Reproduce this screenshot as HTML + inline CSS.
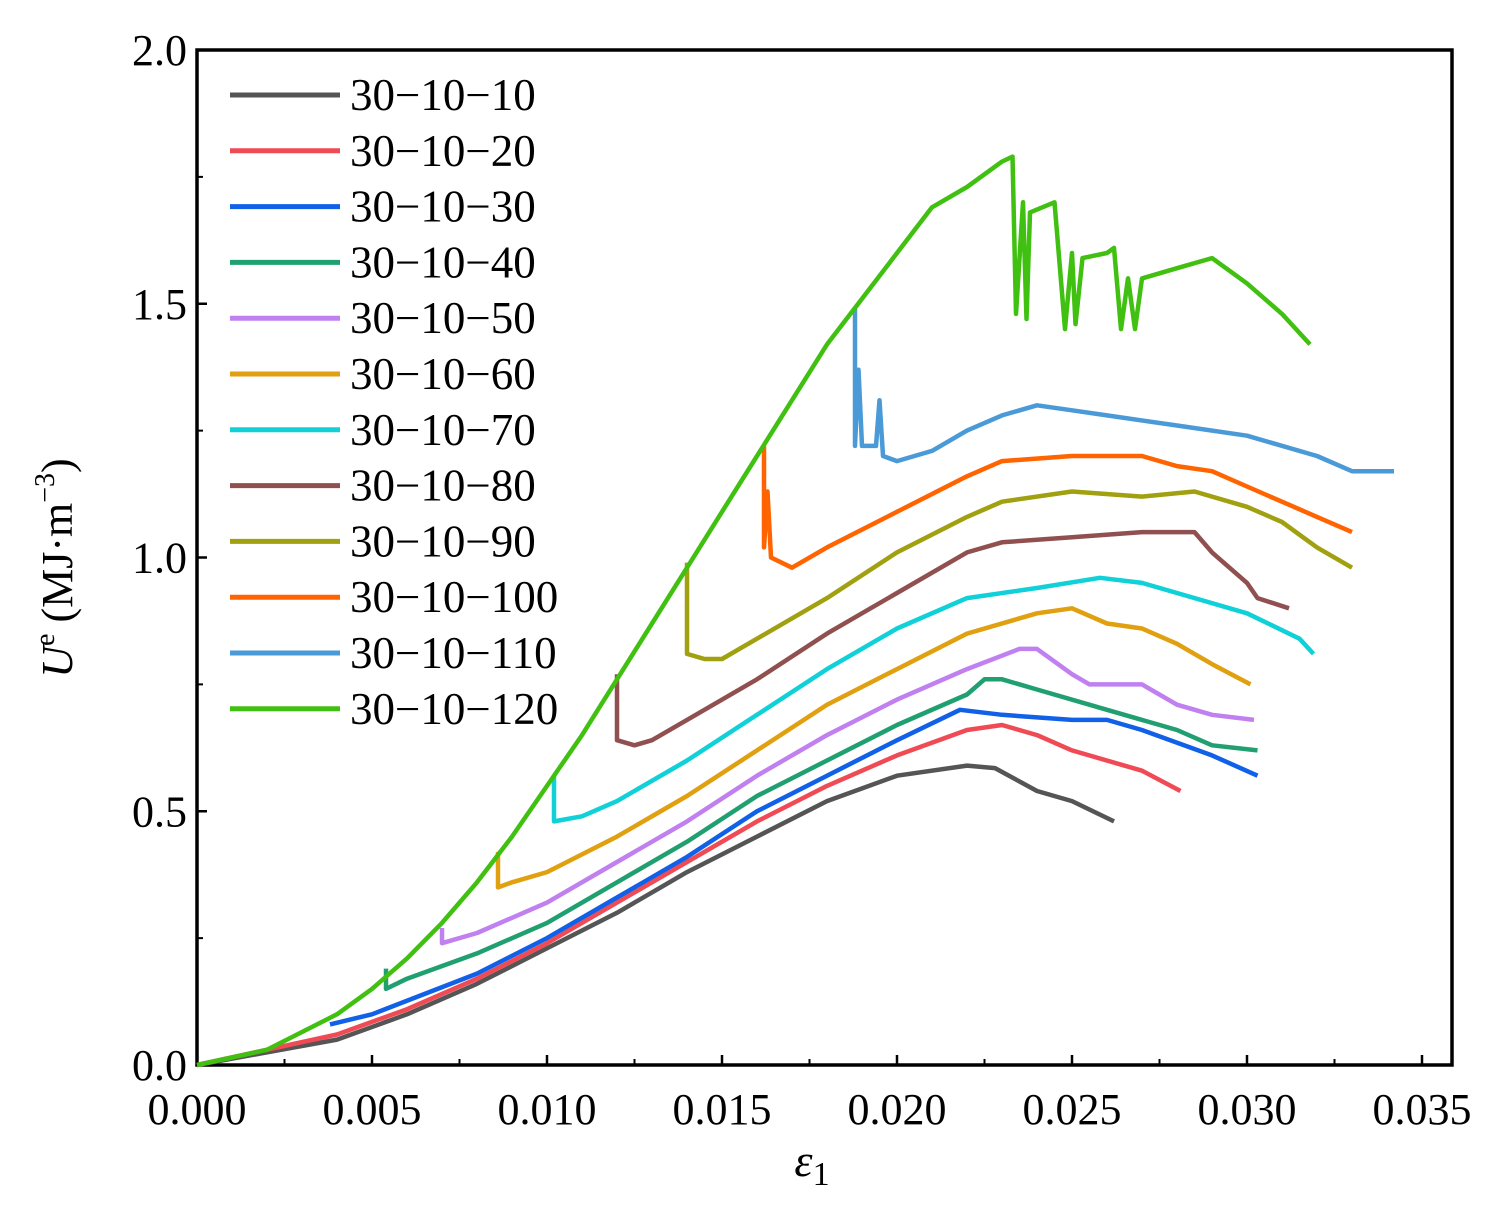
<!DOCTYPE html>
<html><head><meta charset="utf-8"><style>
body{margin:0;background:#fff}
svg{display:block;font-family:"Liberation Serif",serif}
</style></head><body>
<svg id="c" width="1495" height="1214"></svg>
<script>
const names=["30-10-10","30-10-20","30-10-30","30-10-40","30-10-50","30-10-60","30-10-70","30-10-80","30-10-90","30-10-100","30-10-110","30-10-120"];
const colors=["#555555","#f04a55","#1060e8","#20a070","#c080f0","#e0a010","#10d0d8","#905050","#a0a010","#ff6400","#4a9ad8","#40c010"];
const xs10=[0,0.004,0.006,0.008,0.010,0.012,0.014,0.016,0.018,0.020,0.022,0.0228,0.024,0.025,0.0262];
const ys10=[0,0.05,0.10,0.16,0.23,0.30,0.38,0.45,0.52,0.57,0.59,0.585,0.54,0.52,0.48];
const xs20=[0,0.004,0.006,0.008,0.010,0.012,0.014,0.016,0.018,0.020,0.022,0.023,0.024,0.025,0.027,0.0281];
const ys20=[0,0.06,0.11,0.17,0.24,0.32,0.40,0.48,0.55,0.61,0.66,0.67,0.65,0.62,0.58,0.54];
const xs30=[0.0038,0.005,0.008,0.010,0.012,0.014,0.016,0.018,0.020,0.0218,0.023,0.025,0.026,0.027,0.029,0.0303];
const ys30=[0.08,0.10,0.18,0.25,0.33,0.41,0.50,0.57,0.64,0.70,0.69,0.68,0.68,0.66,0.61,0.57];
const xs40=[0.0054,0.0054,0.006,0.008,0.010,0.012,0.014,0.016,0.018,0.020,0.022,0.0225,0.023,0.024,0.026,0.028,0.029,0.0303];
const ys40=[0.19,0.15,0.17,0.22,0.28,0.36,0.44,0.53,0.60,0.67,0.73,0.76,0.76,0.74,0.70,0.66,0.63,0.62];
const xs50=[0.007,0.007,0.008,0.010,0.012,0.014,0.016,0.018,0.020,0.022,0.0235,0.024,0.025,0.0255,0.027,0.028,0.029,0.0302];
const ys50=[0.27,0.24,0.26,0.32,0.40,0.48,0.57,0.65,0.72,0.78,0.82,0.82,0.77,0.75,0.75,0.71,0.69,0.68];
const xs60=[0.0086,0.0086,0.009,0.010,0.012,0.014,0.016,0.018,0.020,0.022,0.024,0.025,0.026,0.027,0.028,0.029,0.0301];
const ys60=[0.42,0.35,0.36,0.38,0.45,0.53,0.62,0.71,0.78,0.85,0.89,0.90,0.87,0.86,0.83,0.79,0.75];
const xs70=[0.0102,0.0102,0.011,0.012,0.014,0.016,0.018,0.020,0.022,0.024,0.0258,0.027,0.028,0.030,0.0315,0.0319];
const ys70=[0.57,0.48,0.49,0.52,0.60,0.69,0.78,0.86,0.92,0.94,0.96,0.95,0.93,0.89,0.84,0.81];
const xs80=[0.012,0.012,0.0125,0.013,0.014,0.016,0.018,0.020,0.022,0.023,0.025,0.027,0.0285,0.029,0.030,0.0303,0.0312];
const ys80=[0.77,0.64,0.63,0.64,0.68,0.76,0.85,0.93,1.01,1.03,1.04,1.05,1.05,1.01,0.95,0.92,0.90];
const xs90=[0.014,0.014,0.0145,0.015,0.016,0.018,0.020,0.022,0.023,0.025,0.027,0.0285,0.030,0.031,0.032,0.033];
const ys90=[0.99,0.81,0.80,0.80,0.84,0.92,1.01,1.08,1.11,1.13,1.12,1.13,1.10,1.07,1.02,0.98];
const xs100=[0.0162,0.0162,0.0163,0.0164,0.017,0.018,0.020,0.022,0.023,0.025,0.027,0.028,0.029,0.030,0.031,0.032,0.033];
const ys100=[1.22,1.02,1.13,1.00,0.98,1.02,1.09,1.16,1.19,1.20,1.20,1.18,1.17,1.14,1.11,1.08,1.05];
const xs110=[0.0188,0.0188,0.0189,0.019,0.0194,0.0195,0.0196,0.020,0.021,0.022,0.023,0.024,0.025,0.026,0.028,0.030,0.032,0.033,0.0342];
const ys110=[1.49,1.22,1.37,1.22,1.22,1.31,1.20,1.19,1.21,1.25,1.28,1.30,1.29,1.28,1.26,1.24,1.20,1.17,1.17];
const xs120=[0,0.002,0.004,0.005,0.006,0.007,0.008,0.009,0.010,0.011,0.012,0.013,0.014,0.015,0.016,0.017,0.018,0.019,0.020,0.021,0.022,0.023,0.0233,0.0234,0.0236,0.0237,0.0238,0.0245,0.0248,0.025,0.0251,0.0253,0.026,0.0262,0.0264,0.0266,0.0268,0.027,0.028,0.029,0.030,0.031,0.0318];
const ys120=[0,0.03,0.10,0.15,0.21,0.28,0.36,0.45,0.55,0.65,0.76,0.87,0.98,1.09,1.20,1.31,1.42,1.51,1.60,1.69,1.73,1.78,1.79,1.48,1.70,1.47,1.68,1.70,1.45,1.60,1.46,1.59,1.60,1.61,1.45,1.55,1.45,1.55,1.57,1.59,1.54,1.48,1.42];
const seriesX=[xs10,xs20,xs30,xs40,xs50,xs60,xs70,xs80,xs90,xs100,xs110,xs120];
const seriesY=[ys10,ys20,ys30,ys40,ys50,ys60,ys70,ys80,ys90,ys100,ys110,ys120];
const xTicks=["0.000","0.005","0.010","0.015","0.020","0.025","0.030","0.035"];
const yTicks=["0.0","0.5","1.0","1.5","2.0"];

const L=197,R=1452,T=50,B=1065;
const X=v=>L+v/0.035*1225;
const Y=v=>B-v/2*(B-T);
const svg=document.getElementById('c');
const NS="http://www.w3.org/2000/svg";
function mk(t,a,p){const e=document.createElementNS(NS,t);for(const k in a)e.setAttribute(k,a[k]);(p||svg).appendChild(e);return e;}

const frame=mk('rect',{x:L,y:T,width:R-L,height:B-T,fill:'none',stroke:'#000','stroke-width':3.5});



xTicks.forEach((t,i)=>{const v=parseFloat(t);const x=X(v);
 const tk=mk('line',{x1:x,y1:B,x2:x,y2:B-10,stroke:'#000','stroke-width':2.5});
 
 
 if(i<xTicks.length-1){const m=mk('line',{x1:X(v+0.0025),y1:B,x2:X(v+0.0025),y2:B-6,stroke:'#000','stroke-width':2});
 
 }
 const tx=mk('text',{x:x,y:B+59,'text-anchor':'middle','font-size':44});tx.textContent=t;
 
 
});
yTicks.forEach((t,i)=>{const v=parseFloat(t);const y=Y(v);
 const tk=mk('line',{x1:L,y1:y,x2:L+10,y2:y,stroke:'#000','stroke-width':2.5});
 
 
 if(i<yTicks.length-1){const m=mk('line',{x1:L,y1:Y(v+0.25),x2:L+6,y2:Y(v+0.25),stroke:'#000','stroke-width':2});
 
 }
 const tx=mk('text',{x:L-10,y:y+15,'text-anchor':'end','font-size':44});tx.textContent=t;
 
 
});

seriesX.forEach((xs,i)=>{
 const d=xs.map((x,j)=>(j?'L':'M')+X(x).toFixed(1)+','+Y(seriesY[i][j]).toFixed(1)).join('');
 const p=mk('path',{d:d,fill:'none',stroke:colors[i],'stroke-width':4.5,'stroke-linejoin':'round'});
 
 
});

names.forEach((n,i)=>{const y=95+i*55.8;
 const g=mk('g',{});
 
 
 mk('line',{x1:230,y1:y,x2:340,y2:y,stroke:colors[i],'stroke-width':5},g);
 const t=mk('text',{x:350,y:y+15,'font-size':45},g);t.textContent=n.replace(/-/g,'\u2212');
});

const xl=mk('text',{x:812,y:1176,'text-anchor':'middle','font-size':46,'font-style':'italic'});
xl.innerHTML='ε<tspan font-style="normal" font-size="34" dy="9">1</tspan>';


const yl=mk('text',{transform:'translate(72,568) rotate(-90)','text-anchor':'middle','font-size':44});
yl.innerHTML='<tspan font-style="italic">U</tspan><tspan font-size="28" dy="-18">e</tspan><tspan dy="18"> (MJ·m</tspan><tspan font-size="28" dy="-18">−3</tspan><tspan dy="18">)</tspan>';


</script>
</body></html>
